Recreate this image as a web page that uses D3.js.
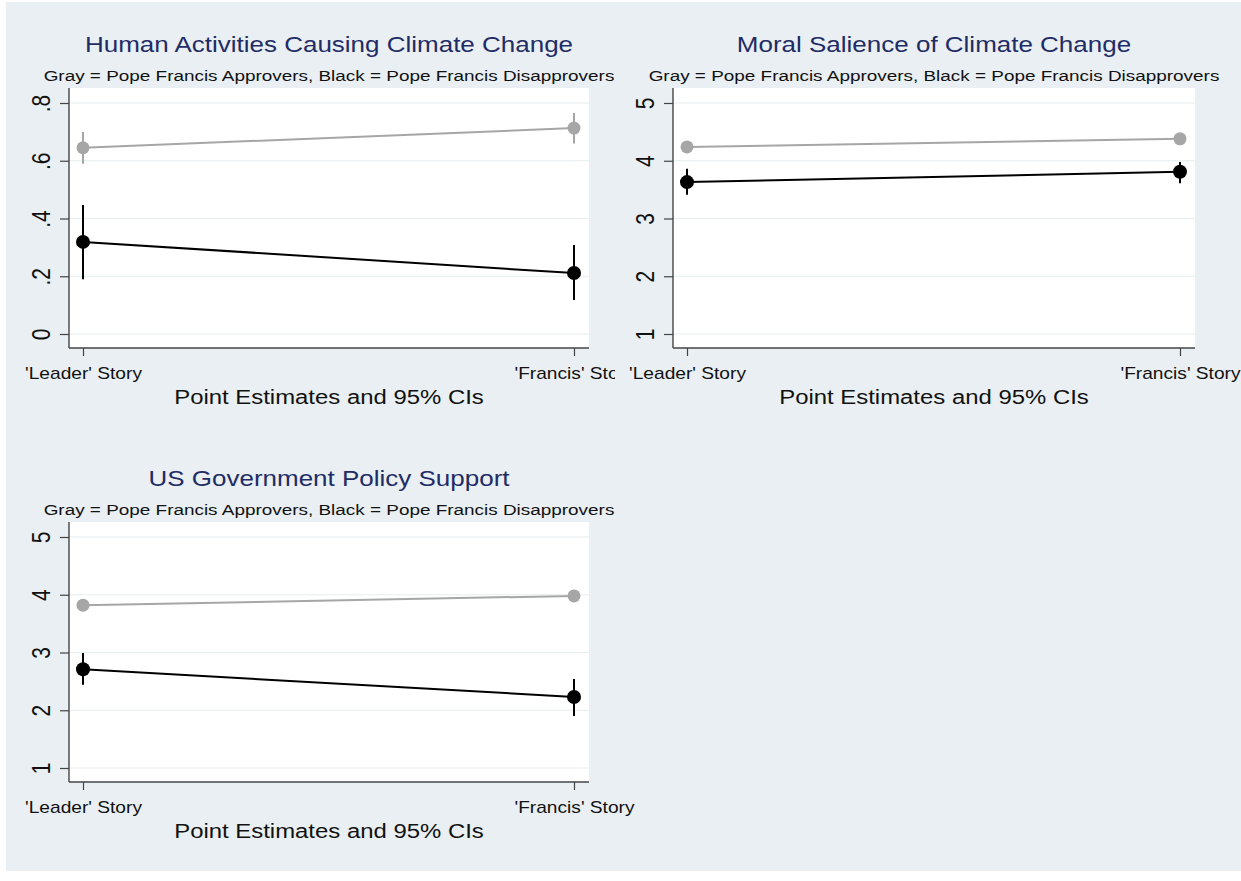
<!DOCTYPE html>
<html>
<head>
<meta charset="utf-8">
<script src="https://cdn.jsdelivr.net/npm/d3@7"></script>
<style>
  body { margin: 0; background: #fff; }
  svg { display: block; font-family: "Liberation Sans", Arial, sans-serif; }
</style>
</head>
<body>
<script>
const W = 1241, H = 881;

// data
const stories = ["'Leader' Story", "'Francis' Story"];
const subtitle = "Gray = Pope Francis Approvers, Black = Pope Francis Disapprovers";
const xTitle = "Point Estimates and 95% CIs";

const humanTicks = [0, 0.2, 0.4, 0.6, 0.8];
const humanTickLabels = ["0", ".2", ".4", ".6", ".8"];
const humanApprove = [0.645, 0.713];
const humanApproveLo = [0.59, 0.66];
const humanApproveHi = [0.70, 0.765];
const humanDisapprove = [0.319, 0.211];
const humanDisapproveLo = [0.19, 0.118];
const humanDisapproveHi = [0.447, 0.308];

const scaleTicks = [1, 2, 3, 4, 5];
const scaleTickLabels = ["1", "2", "3", "4", "5"];
const moralApprove = [4.24, 4.38];
const moralApproveLo = [4.19, 4.33];
const moralApproveHi = [4.29, 4.43];
const moralDisapprove = [3.63, 3.81];
const moralDisapproveLo = [3.41, 3.61];
const moralDisapproveHi = [3.86, 3.98];

const policyApprove = [3.82, 3.98];
const policyApproveLo = [3.77, 3.93];
const policyApproveHi = [3.87, 4.03];
const policyDisapprove = [2.71, 2.23];
const policyDisapproveLo = [2.44, 1.90];
const policyDisapproveHi = [2.99, 2.54];

const panels = [
  {title: "Human Activities Causing Climate Change", ticks: humanTicks, labels: humanTickLabels,
   approve: [humanApprove, humanApproveLo, humanApproveHi],
   disapprove: [humanDisapprove, humanDisapproveLo, humanDisapproveHi],
   left: 69, right: 589, top: 88, bottom: 348, clipRight: 615},
  {title: "Moral Salience of Climate Change", ticks: scaleTicks, labels: scaleTickLabels,
   approve: [moralApprove, moralApproveLo, moralApproveHi],
   disapprove: [moralDisapprove, moralDisapproveLo, moralDisapproveHi],
   left: 673, right: 1195, top: 88, bottom: 348, clipRight: 1241},
  {title: "US Government Policy Support", ticks: scaleTicks, labels: scaleTickLabels,
   approve: [policyApprove, policyApproveLo, policyApproveHi],
   disapprove: [policyDisapprove, policyDisapproveLo, policyDisapproveHi],
   left: 69, right: 589, top: 522, bottom: 782, clipRight: 640}
];

const stretch = 1.22;   // the picture is widened sideways
const bg = "#e9eff2";
const grid = "#e6eef0";
const navy = "#1f2c66";
const grayCol = "#a6a6a6";
const blackCol = "#000";

const svg = d3.select("body").append("svg")
  .attr("width", W)
  .attr("height", H);

svg.append("rect")
  .attr("x", 6).attr("y", 2)
  .attr("width", W - 6).attr("height", H - 12)
  .attr("fill", bg);

function widen(sel) {
  sel.each(function() {
    const len = this.getComputedTextLength();
    d3.select(this).attr("textLength", len * stretch).attr("lengthAdjust", "spacingAndGlyphs");
  });
}

panels.forEach((p, i) => {
  const cx = (p.left + p.right) / 2;
  const ext = d3.extent(p.ticks);

  svg.append("clipPath").attr("id", "clip" + i)
    .append("rect")
    .attr("x", p.left - 80).attr("y", p.top - 100)
    .attr("width", p.clipRight - (p.left - 80)).attr("height", 440);

  const g = svg.append("g").attr("clip-path", `url(#clip${i})`);

  const yScale = d3.scaleLinear()
    .domain(ext)
    .range([p.bottom - 14, p.top + 15]);

  const xScale = d3.scalePoint()
    .domain(stories)
    .range([p.left + 14, p.right - 15]);

  // plot region
  g.append("rect")
    .attr("x", p.left).attr("y", p.top)
    .attr("width", p.right - p.left).attr("height", p.bottom - p.top)
    .attr("fill", "#fff");

  g.append("g").selectAll("line")
    .data(p.ticks)
    .enter()
    .append("line")
    .attr("x1", p.left).attr("x2", p.right)
    .attr("y1", (d) => yScale(d)).attr("y2", (d) => yScale(d))
    .attr("stroke", grid).attr("stroke-width", 1.2);

  // titles
  g.append("text")
    .attr("x", cx).attr("y", p.top - 36)
    .attr("text-anchor", "middle")
    .attr("font-size", 21.3)
    .attr("fill", navy)
    .text(p.title)
    .call(widen);

  g.append("text")
    .attr("x", cx).attr("y", p.top - 7)
    .attr("text-anchor", "middle")
    .attr("font-size", 15.5)
    .attr("fill", "#111")
    .text(subtitle)
    .call(widen);

  // y axis
  const yAxis = d3.axisLeft(yScale)
    .tickValues(p.ticks)
    .tickFormat((d, k) => p.labels[k])
    .tickSize(9)
    .tickSizeOuter(0);

  const ya = g.append("g")
    .attr("transform", `translate(${p.left},0)`)
    .call(yAxis);
  ya.select(".domain").remove();
  ya.selectAll(".tick line").attr("stroke", "#444").attr("stroke-width", 1.2);
  ya.selectAll(".tick text")
    .attr("transform", `rotate(-90) scale(1,${stretch})`)
    .attr("x", 0).attr("y", -19 / stretch).attr("dy", 0)
    .attr("text-anchor", "middle")
    .attr("font-size", 21)
    .attr("font-family", "Liberation Sans, Arial, sans-serif")
    .attr("fill", "#111");

  // x axis
  const xAxis = d3.axisBottom(xScale)
    .tickSize(8)
    .tickSizeOuter(0);

  const xa = g.append("g")
    .attr("transform", `translate(0,${p.bottom})`)
    .call(xAxis);
  xa.select(".domain").remove();
  xa.selectAll(".tick line").attr("stroke", "#444").attr("stroke-width", 1.2);
  xa.selectAll(".tick text")
    .attr("y", 31).attr("dy", 0)
    .attr("font-size", 15.7)
    .attr("font-family", "Liberation Sans, Arial, sans-serif")
    .attr("fill", "#111")
    .call(widen);

  g.append("line")
    .attr("x1", p.left).attr("x2", p.left)
    .attr("y1", p.top).attr("y2", p.bottom)
    .attr("stroke", "#444").attr("stroke-width", 1.4);
  g.append("line")
    .attr("x1", p.left).attr("x2", p.right)
    .attr("y1", p.bottom).attr("y2", p.bottom)
    .attr("stroke", "#444").attr("stroke-width", 1.4);

  g.append("text")
    .attr("x", cx).attr("y", p.bottom + 56)
    .attr("text-anchor", "middle")
    .attr("font-size", 19.6)
    .attr("fill", "#111")
    .text(xTitle)
    .call(widen);

  // series
  const series = [
    {vals: p.approve, color: grayCol, r: 6.5},
    {vals: p.disapprove, color: blackCol, r: 7}
  ];
  series.forEach((s) => {
    const pts = stories.map((st, k) => ({x: st, y: s.vals[0][k], lo: s.vals[1][k], hi: s.vals[2][k]}));
    const sg = g.append("g");
    sg.selectAll("line.ci")
      .data(pts)
      .enter()
      .append("line")
      .attr("class", "ci")
      .attr("x1", (d) => xScale(d.x)).attr("x2", (d) => xScale(d.x))
      .attr("y1", (d) => yScale(d.lo)).attr("y2", (d) => yScale(d.hi))
      .attr("stroke", s.color).attr("stroke-width", 2);
    sg.append("path")
      .datum(pts)
      .attr("fill", "none")
      .attr("stroke", s.color)
      .attr("stroke-width", 2)
      .attr("d", d3.line().x((d) => xScale(d.x)).y((d) => yScale(d.y)));
    sg.selectAll("circle")
      .data(pts)
      .enter()
      .append("circle")
      .attr("cx", (d) => xScale(d.x))
      .attr("cy", (d) => yScale(d.y))
      .attr("r", s.r)
      .attr("fill", s.color);
  });
});
</script>
</body>
</html>
